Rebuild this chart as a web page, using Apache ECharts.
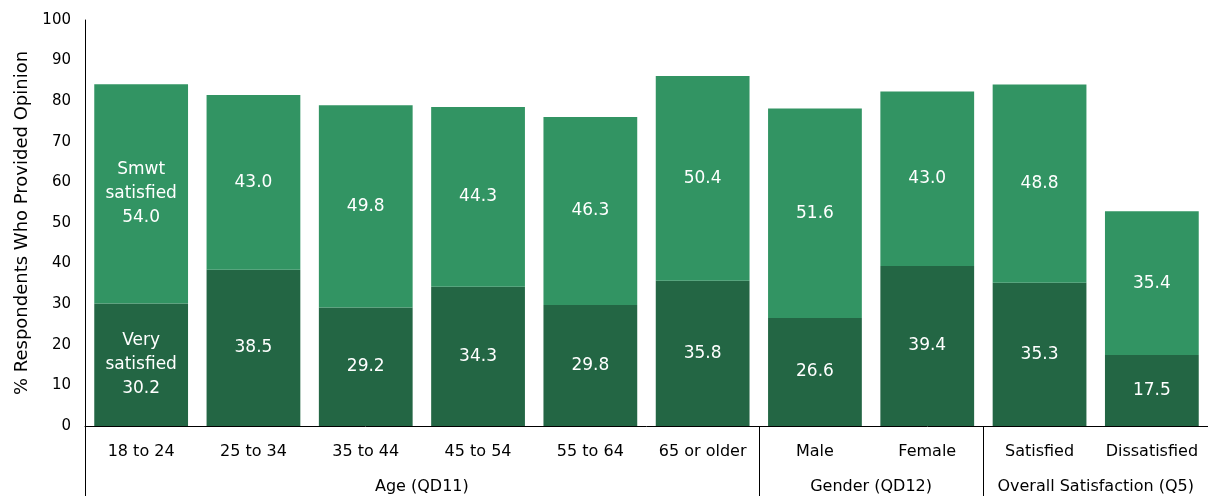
<!DOCTYPE html>
<html>
<head>
<meta charset="utf-8">
<script src="https://cdn.jsdelivr.net/npm/echarts@6/dist/echarts.min.js"></script>
<style>
  html, body { margin: 0; padding: 0; background: #fff; }
  #chart { width: 1208px; height: 496px; }
</style>
</head>
<body>
<div id="chart"></div>
<script>
// categories and their groups
const categories = ["18 to 24", "25 to 34", "35 to 44", "45 to 54", "55 to 64", "65 or older",
  "Male", "Female", "Satisfied", "Dissatisfied"];
const groupNames = ["Age (QD11)", "Gender (QD12)", "Overall Satisfaction (Q5)"];
const groupSizes = [6, 2, 2];

// % values
const verySatisfied = [30.2, 38.5, 29.2, 34.3, 29.8, 35.8, 26.6, 39.4, 35.3, 17.5];
const smwtSatisfied = [54.0, 43.0, 49.8, 44.3, 46.3, 50.4, 51.6, 43.0, 48.8, 35.4];

const FONT = "DejaVu Sans";

// group boundaries / centers on a 0..n value scale
let bounds = [0], centers = [];
let acc = 0;
groupSizes.forEach((s) => {
  centers.push(acc + s / 2);
  acc += s;
  bounds.push(acc);
});
bounds = bounds.slice(0, -1);

const segLabel = (firstLine) => ({
  show: true,
  position: "inside",
  color: "#fff",
  fontFamily: FONT,
  fontSize: 17,
  lineHeight: 24,
  formatter: (p) => (p.dataIndex === 0 ? firstLine + "\n" : "") + p.value.toFixed(1),
});

let chart = echarts.init(document.getElementById("chart"));
chart.setOption({
  animation: false,
  grid: { left: 85, top: 20, width: 1127, height: 406, containLabel: false },
  xAxis: [
    {
      type: "category",
      data: categories,
      position: "bottom",
      axisLine: { lineStyle: { color: "#000", width: 1 } },
      axisTick: { show: false },
      axisLabel: { color: "#000", fontFamily: FONT, fontSize: 16, margin: 18, interval: 0 },
    },
    {
      type: "value",
      position: "bottom",
      offset: 0,
      min: 0,
      max: categories.length,
      splitLine: { show: false },
      axisLine: { show: false },
      axisTick: { show: true, customValues: bounds, length: 70, lineStyle: { color: "#000" } },
      axisLabel: {
        customValues: centers,
        color: "#000",
        fontFamily: FONT,
        fontSize: 16,
        margin: 53,
        formatter: (v) => groupNames[centers.indexOf(v)] || "",
      },
    },
  ],
  yAxis: {
    type: "value",
    min: 0,
    max: 100,
    interval: 10,
    name: "% Respondents Who Provided Opinion",
    nameLocation: "middle",
    nameGap: 54,
    nameTextStyle: { color: "#000", fontFamily: FONT, fontSize: 18 },
    splitLine: { show: false },
    axisLine: { show: true, lineStyle: { color: "#000" } },
    axisTick: { show: false },
    axisLabel: { color: "#000", fontFamily: FONT, fontSize: 15, margin: 14 },
  },
  series: [
    {
      name: "Very satisfied",
      type: "bar",
      stack: "s",
      xAxisIndex: 0,
      barCategoryGap: "16.5%",
      itemStyle: { color: "#236644" },
      label: segLabel("Very\nsatisfied"),
      data: verySatisfied,
    },
    {
      name: "Smwt satisfied",
      type: "bar",
      stack: "s",
      xAxisIndex: 0,
      itemStyle: { color: "#329463" },
      label: segLabel("Smwt\nsatisfied"),
      data: smwtSatisfied,
    },
  ],
});
</script>
</body>
</html>
